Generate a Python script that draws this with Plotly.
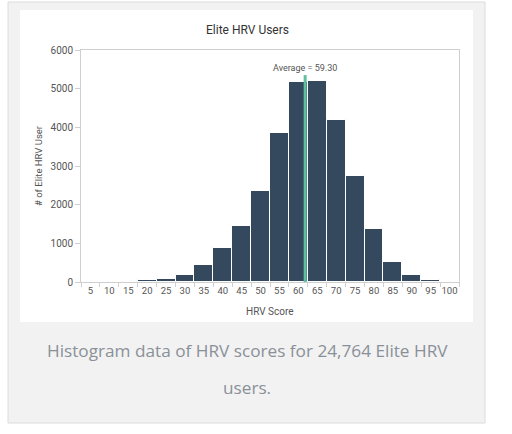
import plotly.graph_objects as go

# ---- data ----
bin_labels = ["5", "10", "15", "20", "25", "30", "35", "40", "45", "50",
              "55", "60", "65", "70", "75", "80", "85", "90", "95", "100"]
bin_width = 5  # each label is the upper edge of a 5-point bin
user_counts = [0, 4, 6, 40, 85, 190, 450, 870, 1450, 2355,
               3860, 5175, 5200, 4180, 2730, 1380, 517, 172, 43, 5]
average_score = 59.30
y_ticks = [0, 1000, 2000, 3000, 4000, 5000, 6000]

title_text = "Elite HRV Users"
x_title = "HRV Score"
y_title = "# of Elite HRV User"
caption_line1 = "Histogram data of HRV scores for 24,764 Elite HRV"
caption_line2 = "users."

# ---- geometry (pixels) ----
W, H = 512, 434
PL, PR, PT, PB = 81, 459, 50, 282  # plot area box


def px(x):
    return (x - PL) / (PR - PL)


def py(y):
    return (PB - y) / (PB - PT)


BAR = "#34495e"
AVG = "#5ec09e"
TXT = "#555555"
AX = "#cfcfcf"
FONT = "Roboto"

fig = go.Figure()
fig.add_trace(go.Bar(
    x=bin_labels, y=user_counts,
    marker=dict(color=BAR, line=dict(color="white", width=1)),
    hoverinfo="x+y", showlegend=False,
))

# average position in category-index space: bin i covers (5*i, 5*i+5]
avg_idx = average_score / bin_width - 0.5
line_top = 5350

shapes = [
    # outer gray panel
    dict(type="rect", xref="paper", yref="paper", layer="below",
         x0=px(8), x1=px(485), y0=py(423), y1=py(2),
         fillcolor="#f2f2f2", line=dict(color="#dcdcdc", width=1)),
    # white chart card
    dict(type="rect", xref="paper", yref="paper", layer="below",
         x0=px(20), x1=px(473), y0=py(322), y1=py(10),
         fillcolor="white", line=dict(width=0)),
    # average line
    dict(type="line", xref="x", yref="y", layer="above",
         x0=avg_idx, x1=avg_idx, y0=0, y1=line_top,
         line=dict(color=AVG, width=3)),
]

annotations = [
    dict(text=f"Average = {average_score:.2f}", xref="x", yref="paper",
         x=avg_idx, y=py(68), showarrow=False, xanchor="center", yanchor="middle",
         font=dict(family=FONT, size=9, color=TXT)),
    dict(text=title_text, xref="paper", yref="paper", x=px(247), y=py(30),
         showarrow=False, xanchor="center", yanchor="middle",
         font=dict(family=FONT, size=12, color="#333333")),
    dict(text=x_title, xref="paper", yref="paper", x=px(270), y=py(311),
         showarrow=False, xanchor="center", yanchor="middle",
         font=dict(family=FONT, size=10, color=TXT)),
    dict(text=y_title, xref="paper", yref="paper", x=px(38), y=py(166),
         showarrow=False, xanchor="center", yanchor="middle", textangle=-90,
         font=dict(family=FONT, size=9.5, color=TXT)),
    dict(text=caption_line1, xref="paper", yref="paper", x=px(247), y=py(350),
         showarrow=False, xanchor="center", yanchor="middle",
         font=dict(family="Open Sans", size=17.2, color="#8a9098")),
    dict(text=caption_line2, xref="paper", yref="paper", x=px(247), y=py(387),
         showarrow=False, xanchor="center", yanchor="middle",
         font=dict(family="Open Sans", size=17.2, color="#8a9098")),
]

fig.update_layout(
    width=W, height=H, autosize=False,
    margin=dict(l=PL, r=W - PR, t=PT, b=H - PB, pad=0),
    paper_bgcolor="white", plot_bgcolor="rgba(0,0,0,0)",
    bargap=0,
    shapes=shapes, annotations=annotations,
    font=dict(family=FONT, color=TXT),
)
fig.update_xaxes(
    type="category", range=[-0.5, len(bin_labels) - 0.5],
    showline=True, linecolor=AX, linewidth=1, mirror=True,
    ticks="outside", tickson="boundaries", ticklen=4, tickcolor=AX,
    showgrid=False, zeroline=False, tickangle=0,
    tickfont=dict(family=FONT, size=9.5, color=TXT),
)
fig.update_yaxes(
    range=[0, 6000], tickvals=y_ticks,
    showline=True, linecolor=AX, linewidth=1, mirror=True,
    ticks="outside", ticklen=5, tickcolor=AX,
    showgrid=False, zeroline=False,
    tickfont=dict(family=FONT, size=10, color=TXT),
)

fig.write_html(
    "out.html",
    config={"displayModeBar": False},
    post_script="document.body.style.margin='0';document.body.style.padding='0';",
)
